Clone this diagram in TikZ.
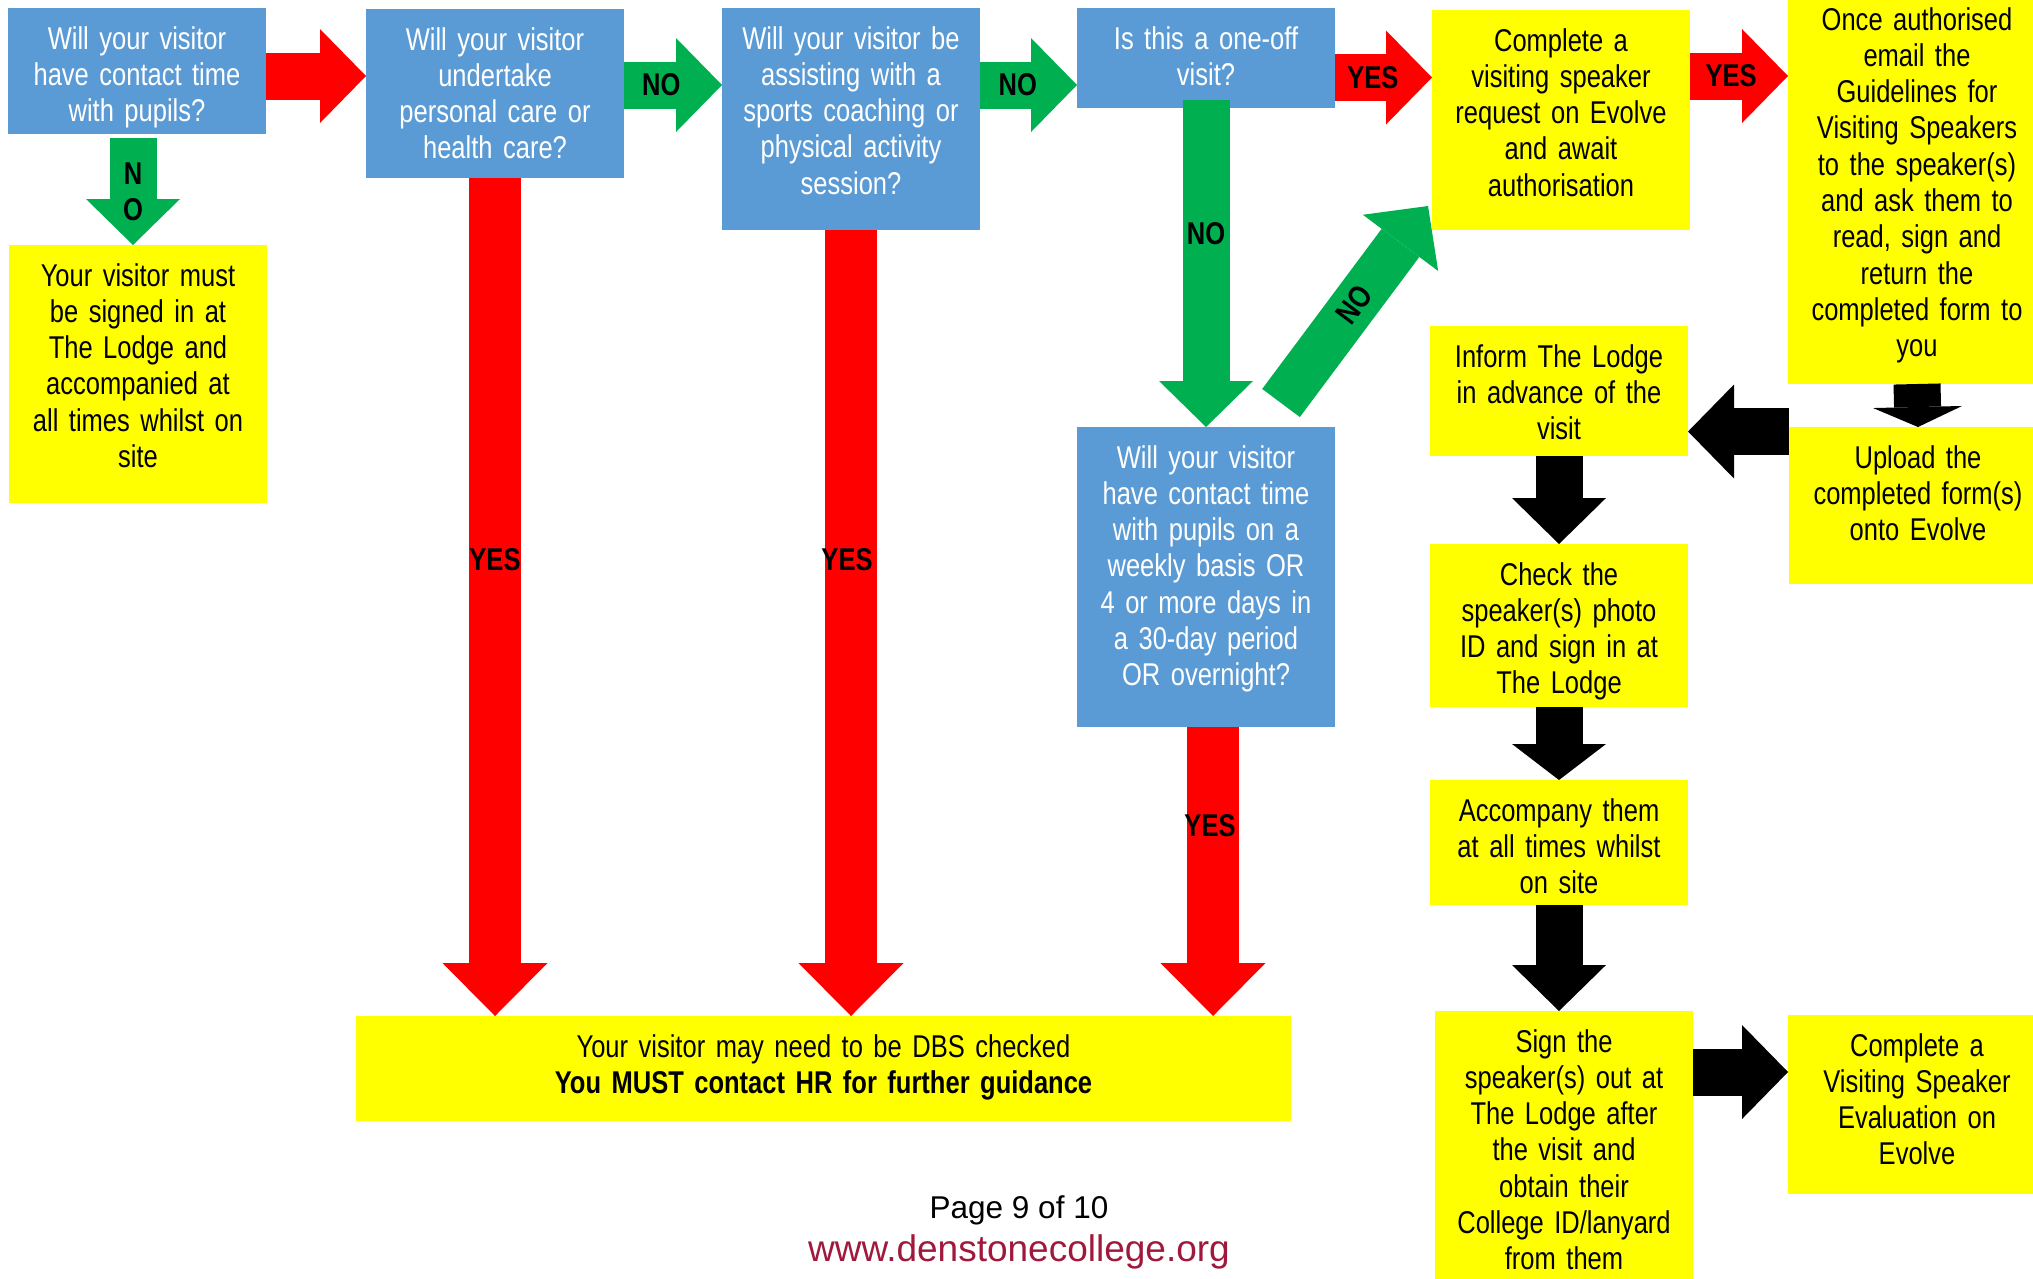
\documentclass[tikz,border=0pt]{standalone}
\usepackage{fontspec}
\setmainfont{Liberation Sans}[FakeStretch=0.81]
\newfontfamily\widefont{Liberation Sans}
\usetikzlibrary{arrows.meta}
\definecolor{qblue}{RGB}{91,155,213}
\definecolor{qgreen}{RGB}{0,176,80}
\definecolor{qred}{RGB}{255,0,0}
\definecolor{qyellow}{RGB}{255,255,0}
\definecolor{weblink}{RGB}{160,25,60}

\begin{document}
\begin{tikzpicture}[x=1pt,y=-1pt,
  box/.style={anchor=north west,inner xsep=5pt,inner ysep=0pt,outer sep=0pt,
    text width=248pt,align=center,text height=41pt,
    font=\fontsize{31.5}{36.3}\selectfont},
  question/.style={box,fill=qblue,text=white},
  action/.style={box,fill=qyellow,text=black},
  flow/.style={line width=47pt,-{Triangle[length=46pt,width=94pt,line width=0pt]}},
  longflow/.style={line width=52pt,-{Triangle[length=53pt,width=105pt,line width=0pt]}},
  flowtag/.style={inner sep=0pt,text=black,font=\fontsize{31.5}{36.3}\selectfont\bfseries}]

  \useasboundingbox (0,0) rectangle (2033,1278);

  \node[question,text depth=85pt] (visitor) at (8,8) {Will your visitor\\have contact time\\with pupils?};
  \node[question,text depth=128pt] (care) at (366,9) {Will your visitor\\undertake\\personal care or\\health care?};
  \node[question,text depth=181pt] (sport) at (722,8) {Will your visitor be\\assisting with a\\sports coaching or\\physical activity\\session?};
  \node[question,text depth=59pt] (oneoff) at (1077,8) {Is this a one-off\\visit?};
  \node[question,text depth=259pt] (regular) at (1077,427) {Will your visitor\\have contact time\\with pupils on a\\weekly basis OR\\4 or more days in\\a 30-day period\\OR overnight?};

  \node[action,text depth=217pt] (signin) at (9,245) {Your visitor must\\be signed in at\\The Lodge and\\accompanied at\\all times whilst on\\site};
  \node[action,text depth=179pt] (request) at (1432,10) {Complete a\\visiting speaker\\request on Evolve\\and await\\authorisation};
  \node[action,text depth=354pt] (guide) at (1788,-11) {Once authorised\\email the\\Guidelines for\\Visiting Speakers\\to the speaker(s)\\and ask them to\\read, sign and\\return the\\completed form to\\you};
  \node[action,text depth=116pt] (upload) at (1789,427) {Upload the\\completed form(s)\\onto Evolve};
  \node[action,text depth=89pt] (inform) at (1430,326) {Inform The Lodge\\in advance of the\\visit};
  \node[action,text depth=122pt] (check) at (1430,544) {Check the\\speaker(s) photo\\ID and sign in at\\The Lodge};
  \node[action,text depth=84pt] (accompany) at (1430,780) {Accompany them\\at all times whilst\\on site};
  \node[action,text depth=259pt] (signout) at (1435,1011) {Sign the\\speaker(s) out at\\The Lodge after\\the visit and\\obtain their\\College ID/lanyard\\from them};
  \node[action,text depth=138pt] (evaluate) at (1788,1015) {Complete a\\Visiting Speaker\\Evaluation on\\Evolve};
  \node[action,text width=925pt,text depth=64pt] (dbs) at (356,1016) {Your visitor may need to be DBS checked\\\textbf{You MUST contact HR for further guidance}};

  \node[font=\widefont\fontsize{31.5}{36}\selectfont] (page) at (1019,1210) {Page 9 of 10};
  \node[font=\widefont\fontsize{37}{42}\selectfont,text=weblink] (web) at (1019,1252) {www.denstonecollege.org};

  \path
   (visitor.east |- 0,76) edge[flow,draw=qred] (care.west |- 0,76)
   ([yshift=-4pt]visitor.south -| 133,0) edge[flow,draw=qgreen] node[flowtag,align=center,midway]{N\\O} (signin.north -| 133,0)
   (care.east |- 0,85) edge[flow,draw=qgreen] node[flowtag,pos=0.38]{NO} (sport.west |- 0,85)
   (sport.east |- 0,85) edge[flow,draw=qgreen] node[flowtag,pos=0.39]{NO} (oneoff.west |- 0,85)
   (oneoff.east |- 0,77.5) edge[flow,draw=qred] node[flowtag,pos=0.39]{YES} (request.west |- 0,77.5)
   (request.east |- 0,76) edge[flow,draw=qred] node[flowtag,pos=0.42]{YES} (guide.west |- 0,76)
   (care.south) edge[longflow,draw=qred] node[flowtag,pos=0.456]{YES} (dbs.north -| care.south)
   (sport.south) edge[longflow,draw=qred] node[flowtag,pos=0.42,xshift=-4pt]{YES} (dbs.north -| sport.south)
   ([yshift=8pt]oneoff.south) edge[flow,draw=qgreen] node[flowtag,pos=0.41]{NO} (regular.north)
   ([shift={(-54pt,24pt)}]regular.north east) edge[flow,draw=qgreen] node[flowtag,sloped,midway]{NO} ([shift={(-4pt,24pt)}]request.south west)
   (regular.south -| 1213,0) edge[longflow,draw=qred] node[flowtag,pos=0.34,xshift=-3pt]{YES} (dbs.north -| 1213,0);

  \path[draw=black]
   (guide.south) edge[flow,-{Triangle[length=20pt,width=89pt,line width=0pt]}] (upload.north)
   (upload.west |- 0,431.5) edge[flow] (inform.east |- 0,431.5)
   (inform.south) edge[flow] (check.north)
   (check.south) edge[flow,-{Triangle[length=36pt,width=94pt,line width=0pt]}] (accompany.north)
   (accompany.south) edge[flow] (signout.north -| accompany.south)
   (signout.east |- 0,1072) edge[flow] (evaluate.west |- 0,1072);
\end{tikzpicture}
\end{document}
